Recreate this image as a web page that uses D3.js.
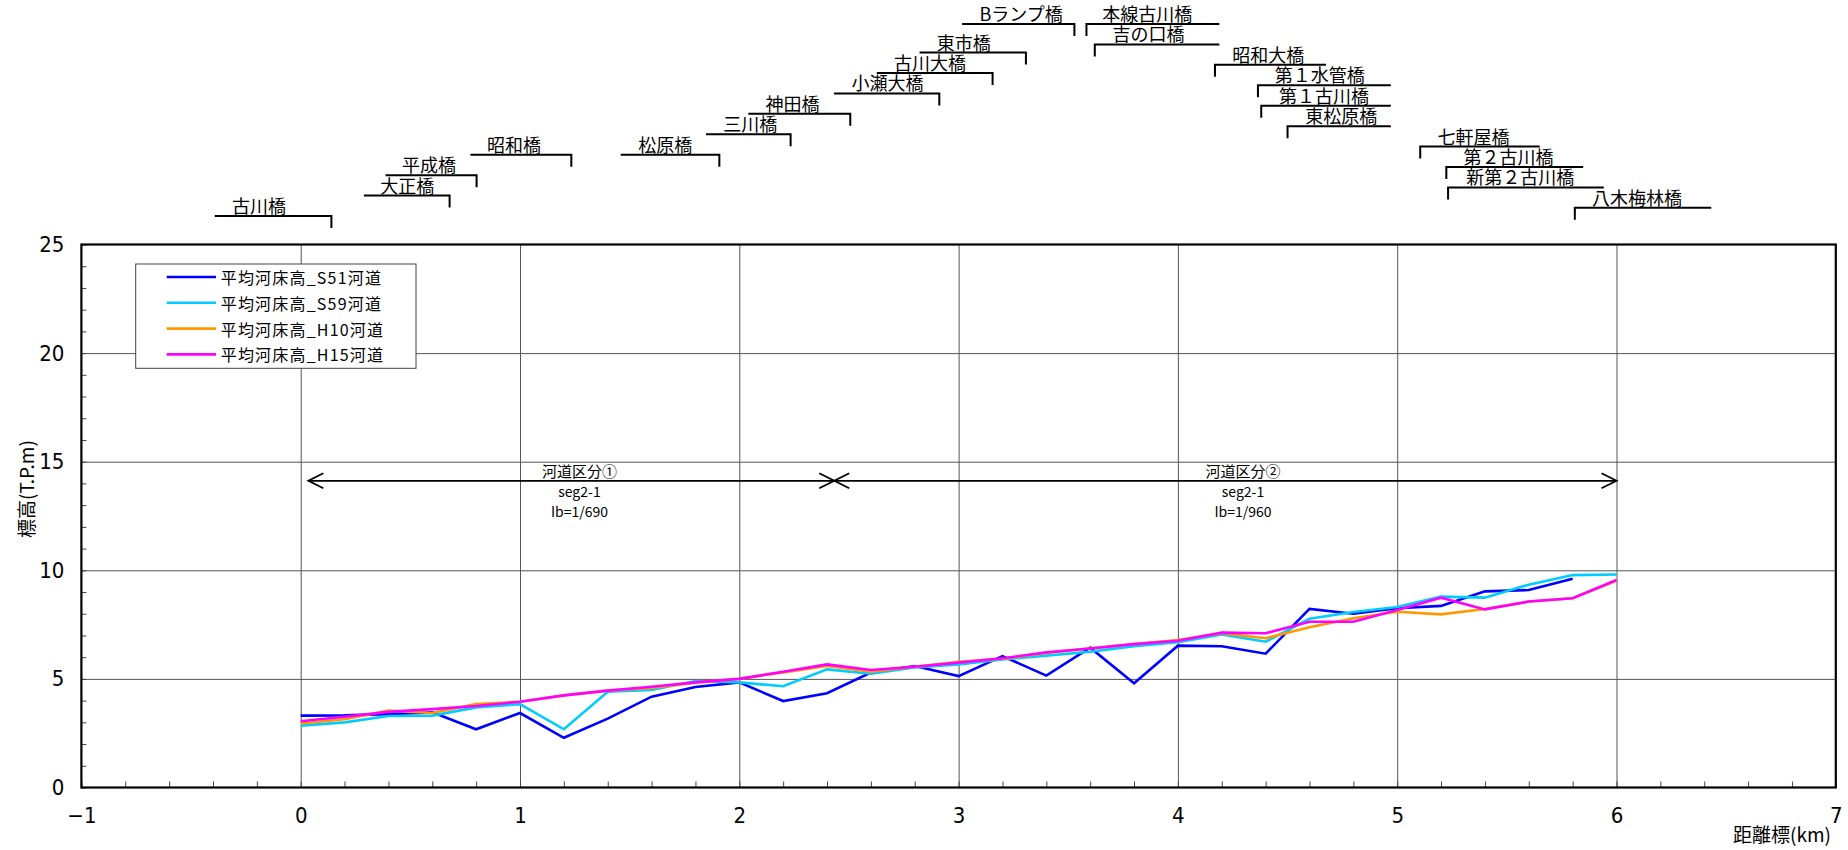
<!DOCTYPE html>
<html><head><meta charset="utf-8">
<script src="https://cdn.jsdelivr.net/npm/d3@7"></script>
<style>
body{margin:0;background:#fff}
svg{display:block}
.num{font-family:"Liberation Sans Narrow","DejaVu Sans Condensed","Noto Sans CJK JP",sans-serif;}
.jp{font-family:"Noto Sans CJK JP","Noto Sans",sans-serif;}
</style>
</head><body>
<svg id="c" width="1848" height="850"></svg>
<script>
// ---------- data ----------
const distKm = [0,0.2,0.4,0.6,0.8,1.0,1.2,1.4,1.6,1.8,2.0,2.2,2.4,2.6,2.8,3.0,3.2,3.4,3.6,3.8,4.0,4.2,4.4,4.6,4.8,5.0,5.2,5.4,5.6,5.8,6.0];
const bedS51 = [3.31,3.32,3.38,3.46,2.68,3.43,2.29,3.17,4.18,4.63,4.84,3.98,4.34,5.29,5.59,5.13,6.05,5.15,6.44,4.80,6.53,6.50,6.16,8.22,8.00,8.25,8.36,9.03,9.09,9.61,null];
const bedS59 = [2.85,3.00,3.29,3.31,3.69,3.84,2.68,4.41,4.49,4.90,4.84,4.66,5.44,5.24,5.53,5.67,5.90,6.07,6.25,6.51,6.69,7.05,6.71,7.77,8.08,8.31,8.79,8.74,9.34,9.78,9.81];
const bedH10 = [2.95,3.14,3.54,3.43,3.84,3.95,4.24,4.46,4.58,4.83,5.00,5.30,5.59,5.33,5.56,5.79,5.93,6.19,6.41,6.61,6.79,7.10,6.87,7.38,7.79,8.09,7.97,8.22,8.56,8.71,9.52];
const bedH15 = [3.05,3.26,3.48,3.61,3.75,3.95,4.24,4.46,4.64,4.84,5.00,5.33,5.67,5.41,5.56,5.75,5.95,6.22,6.40,6.60,6.76,7.13,7.10,7.63,7.63,8.17,8.74,8.20,8.56,8.71,9.55];
const seriesNames = ["平均河床高_S51河道","平均河床高_S59河道","平均河床高_H10河道","平均河床高_H15河道"];
const seriesColors = ["#0000ff","#00ccff","#ff9900","#ff00ff"];

const xTicks = [-1,0,1,2,3,4,5,6,7];
const yTicks = [0,5,10,15,20,25];
const xLabel = "距離標(km)";
const yLabel = "標高(T.P.m)";

// river segment annotations
const segStartKm = [0.035, 2.433];
const segEndKm = [2.433, 6.0];
const segArrowLevel = 14.12;
const segLabelKm = [1.271, 4.297];
const segNames = ["河道区分①","河道区分②"];
const segTypes = ["seg2-1","seg2-1"];
const segSlopes = ["Ib=1/690","Ib=1/960"];

// bridges
const bridgeNames = ["古川橋","大正橋","平成橋","昭和橋","松原橋","三川橋","神田橋","小瀬大橋","古川大橋","東市橋","Bランプ橋","本線古川橋","吉の口橋","昭和大橋","第１水管橋","第１古川橋","東松原橋","七軒屋橋","第２古川橋","新第２古川橋","八木梅林橋"];
const bridgeKm = [0.14,0.679,0.802,1.234,1.909,2.234,2.506,2.912,3.155,3.307,3.528,3.583,3.621,4.169,4.365,4.38,4.5,5.105,5.224,5.232,5.81];
const bridgeLineEndKm = [-0.392,0.288,0.387,0.774,1.459,1.848,2.041,2.432,2.627,2.822,3.016,4.189,4.189,4.675,4.971,4.971,4.971,5.65,5.848,5.942,6.432];
const bridgeLabelKm = [-0.19,0.486,0.585,0.973,1.662,2.05,2.243,2.676,2.87,3.024,3.285,3.86,3.866,4.412,4.647,4.666,4.745,5.348,5.508,5.561,6.093];
const bridgeRow = [0,1,2,3,3,4,5,6,7,8,9.4,9.4,8.4,7.4,6.4,5.4,4.4,3.4,2.4,1.4,0.4];

// ---------- layout ----------
const svg = d3.select("#c");
const L = 81.4, R = 1835.8, T = 244.5, B = 787.5;
const x = d3.scaleLinear().domain([-1,7]).range([L,R]);
const y = d3.scaleLinear().domain([0,25]).range([B,T]);
const rowY = d3.scaleLinear().domain([0,9.4]).range([216,24]);

// gridlines
svg.append("g").attr("transform",`translate(0,${B})`)
  .call(d3.axisBottom(x).tickValues(d3.range(0,7)).tickSize(-(B-T)).tickFormat(""))
  .call(g=>g.select(".domain").remove())
  .call(g=>g.selectAll("line").attr("stroke","#555").attr("stroke-width",1));
svg.append("g").attr("transform",`translate(${L},0)`)
  .call(d3.axisLeft(y).tickValues([5,10,15,20]).tickSize(-(R-L)).tickFormat(""))
  .call(g=>g.select(".domain").remove())
  .call(g=>g.selectAll("line").attr("stroke","#555").attr("stroke-width",1));

// minor ticks (inward)
svg.append("g").attr("transform",`translate(0,${B})`)
  .call(d3.axisBottom(x).tickValues(d3.range(-1,7.001,0.2)).tickSize(-6).tickFormat(""))
  .call(g=>g.select(".domain").remove())
  .call(g=>g.selectAll("line").attr("stroke","#444").attr("stroke-width",1));
svg.append("g").attr("transform",`translate(${L},0)`)
  .call(d3.axisLeft(y).tickValues(d3.range(0,25.001,1)).tickSize(-5).tickFormat(""))
  .call(g=>g.select(".domain").remove())
  .call(g=>g.selectAll("line").attr("stroke","#444").attr("stroke-width",1));

// tick labels
svg.append("g").attr("transform",`translate(0,${B})`).attr("class","num")
  .call(d3.axisBottom(x).tickValues(xTicks).tickSize(0).tickPadding(19.5).tickFormat(d3.format("d")))
  .call(g=>g.select(".domain").remove())
  .call(g=>g.selectAll("text").attr("font-size",22).attr("fill","#000").attr("font-family",null));
svg.append("g").attr("transform",`translate(${L},0)`).attr("class","num")
  .call(d3.axisLeft(y).tickValues(yTicks).tickSize(0).tickPadding(17).tickFormat(d3.format("d")))
  .call(g=>g.select(".domain").remove())
  .call(g=>g.selectAll("text").attr("font-size",22).attr("fill","#000").attr("font-family",null));

// axis titles
svg.append("text").attr("class","jp").attr("x",1831).attr("y",842)
  .attr("text-anchor","end").attr("font-size",19).text(xLabel);
svg.append("text").attr("class","jp").attr("transform","translate(25,489) rotate(-90)")
  .attr("text-anchor","middle").attr("dominant-baseline","central").attr("font-size",19).text(yLabel);

// series
const allSeries = [bedS51,bedS59,bedH10,bedH15];
const line = d3.line().defined(d=>d[1]!=null).x(d=>x(d[0])).y(d=>y(d[1]));
allSeries.forEach((vals,i)=>{
  svg.append("path").datum(distKm.map((k,j)=>[k,vals[j]]))
    .attr("d",line).attr("fill","none").attr("stroke",seriesColors[i])
    .attr("stroke-width",2.6).attr("stroke-linejoin","miter");
});

// segment annotation arrows
const ay = y(segArrowLevel);
const ann = svg.append("g").attr("stroke","#000").attr("stroke-width",1.8).attr("fill","none");
segStartKm.forEach((s,i)=>{
  const x0 = x(s), x1 = x(segEndKm[i]);
  ann.append("line").attr("x1",x0).attr("x2",x1).attr("y1",ay).attr("y2",ay);
  ann.append("path").attr("d",`M${x0+15},${ay-7.5}L${x0},${ay}L${x0+15},${ay+7.5}`);
  ann.append("path").attr("d",`M${x1-15},${ay-7.5}L${x1},${ay}L${x1-15},${ay+7.5}`);
});
segLabelKm.forEach((k,i)=>{
  const g = svg.append("g").attr("class","jp").attr("text-anchor","middle").attr("fill","#000");
  g.append("text").attr("x",x(k)).attr("y",ay-3.5).attr("font-size",15).text(segNames[i]);
  g.append("text").attr("x",x(k)).attr("y",ay+16.5).attr("font-size",14).text(segTypes[i]);
  g.append("text").attr("x",x(k)).attr("y",ay+36).attr("font-size",14).text(segSlopes[i]);
});

// bridges
const bg = svg.append("g");
bridgeNames.forEach((name,i)=>{
  const yy = rowY(bridgeRow[i]);
  const xt = x(bridgeKm[i]), xe = x(bridgeLineEndKm[i]);
  bg.append("path").attr("d",`M${xe},${yy}L${xt},${yy}L${xt},${yy+12}`)
    .attr("fill","none").attr("stroke","#000").attr("stroke-width",2);
  bg.append("text").attr("class","jp").attr("x",x(bridgeLabelKm[i])).attr("y",yy-3)
    .attr("text-anchor","middle").attr("font-size",18).text(name);
});

// frame
svg.append("rect").attr("x",L).attr("y",T).attr("width",R-L).attr("height",B-T)
  .attr("fill","none").attr("stroke","#000").attr("stroke-width",2.2);

// legend
const lg = svg.append("g");
lg.append("rect").attr("x",135.7).attr("y",264).attr("width",280.3).attr("height",104.3)
  .attr("fill","#fff").attr("stroke","#444").attr("stroke-width",1);
seriesNames.forEach((n,i)=>{
  const ly = 277 + i*25.8;
  lg.append("line").attr("x1",166.7).attr("x2",216).attr("y1",ly).attr("y2",ly)
    .attr("stroke",seriesColors[i]).attr("stroke-width",2.6);
  lg.append("text").attr("class","jp").attr("x",220.7).attr("y",ly)
    .attr("dominant-baseline","central").attr("font-size",16).attr("letter-spacing",1.2).text(n);
});
</script>
</body></html>
